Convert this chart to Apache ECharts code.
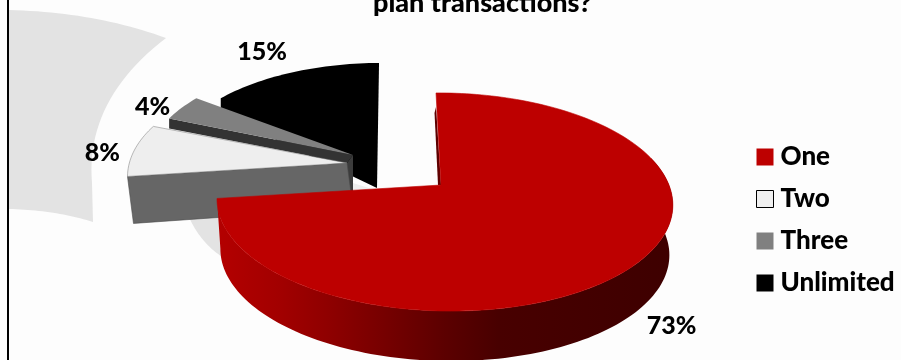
<!DOCTYPE html>
<html>
<head>
<meta charset="utf-8">
<style>html,body{margin:0;padding:0;background:#fdfdfd}#chart{width:901px;height:360px}</style>
<script src="https://cdn.jsdelivr.net/npm/echarts@6/dist/echarts.min.js"></script>
</head>
<body>
<div id="chart"></div>
<script>
// Share of respondents per answer, in percent
const categories = ['One', 'Two', 'Three', 'Unlimited'];
const shares = [73, 8, 4, 15];

const FONT = 'Lato, "Noto Sans", sans-serif';
const WEIGHT = 900;
const topColors = ['#bd0000', '#eeeeee', '#808080', '#000000'];
const legendColors = ['#bd0000', '#f0f0f0', '#808080', '#000000'];

// Perspective of the tilted pie disc
const RX = 225, RY = 106.4, TILT = 0.156, SKEW = -0.013, SHEAR = 0.054;

// Pulled-out position and solid shape of each wedge
const wedges = [
  { cx: 441, cy: 185, scale: 1.00, z: 5, depth: 50, labelDx: 36, labelDy: 62 },
  { cx: 347, cy: 163, scale: 0.98, z: 4, depth: 47, labelDx: -32, labelDy: 3 },
  { cx: 353, cy: 155, scale: 0.93, z: 3, depth: 10, labelDx: -29, labelDy: -1 },
  { cx: 384, cy: 155, scale: 0.97, z: 2, depth: 15, labelDx: -31, labelDy: -20 }
];

const total = shares.reduce((a, b) => a + b, 0);
const angles = [];
shares.reduce((acc, s) => { angles.push([acc, acc + s / total * 360]); return acc + s / total * 360; }, 0);

function rim(w, deg, sx, dy) {
  const t = deg * Math.PI / 180, u = Math.sin(t), v = Math.cos(t);
  const d = 1 + TILT * v + SKEW * u;
  const y = w.cy - RY * v / d;
  const x = w.cx + RX * w.scale * (sx || 1) * u / d + SHEAR * (y - w.cy);
  return [x, y + (dy || 0)];
}
function arc(w, a0, a1, sx, dy) {
  const pts = [], n = Math.max(2, Math.ceil(Math.abs(a1 - a0) / 1.5));
  for (let i = 0; i <= n; i++) pts.push(rim(w, a0 + (a1 - a0) * i / n, sx, dy));
  return pts;
}
const poly = (points, style) => ({ type: 'polygon', shape: { points }, style, silent: true });

// Quadratic curve sampled into points, for the watermark outline
function quad(p0, c, p1) {
  const pts = [];
  for (let i = 0; i <= 24; i++) {
    const t = i / 24, s = 1 - t;
    pts.push([s * s * p0[0] + 2 * s * t * c[0] + t * t * p1[0], s * s * p0[1] + 2 * s * t * c[1] + t * t * p1[1]]);
  }
  return pts;
}

const redSide = {
  type: 'linear', x: 216, y: 0, x2: 672, y2: 0, global: true,
  colorStops: [
    { offset: 0, color: '#b40000' }, { offset: 0.14, color: '#a20000' },
    { offset: 0.25, color: '#8e0000' }, { offset: 0.5, color: '#5c0000' },
    { offset: 0.62, color: '#480000' }, { offset: 1, color: '#3e0000' }
  ]
};

function shapesFor(i) {
  const w = wedges[i], [a0, a1] = angles[i];
  const apex = [w.cx, w.cy];
  const top = [apex].concat(arc(w, a0, a1));
  const out = [];
  const add = (x, y, p) => [p[0] + x, p[1] + y];
  if (i === 0) {
    // Outer wall, a slightly narrower rim dropped below the top face
    const upper = arc(w, 75, a1);
    const lower = arc(w, 75, a1, 0.985, w.depth);
    out.push(poly(upper.concat(lower.reverse()), { fill: redSide }));
    // Sliver of the inner cut face
    const r0 = rim(w, a0);
    out.push(poly([add(0, 14, r0), add(-1.5, 20, r0), add(-3, 0, apex), apex], { fill: '#5e0000' }));
    out.push(poly(top, { fill: topColors[i], stroke: topColors[i], lineWidth: 0.6 }));
  } else if (i === 1) {
    const s = rim(w, a0);
    // Small patch of the far face showing past the neighbouring wedge
    out.push(poly([add(6, 20, apex), add(25, 26, apex), add(6, 34, apex)], { fill: '#eeeeee' }));
    out.push(poly([s, add(6, w.depth, s), add(6, 45, apex), apex], {
      fill: '#666666', stroke: '#4a4a4a', lineWidth: 0.6
    }));
    out.push(poly(top, { fill: topColors[i], stroke: '#777777', lineWidth: 0.5 }));
  } else if (i === 2) {
    const s = rim(w, a0);
    out.push(poly([apex, add(-6, 8, apex), add(-6, 37, apex), add(0, 37, apex)], { fill: '#3c3c3c' }));
    out.push(poly([s, add(0, w.depth, s), add(-6, 8, apex), apex], { fill: '#333333' }));
    out.push(poly(top, { fill: topColors[i] }));
  } else {
    // Everything black here, so the rim and the solid below share one outline
    const s = rim(w, a0);
    out.push(poly(arc(w, a0, a1).concat([add(-7, 33, apex), add(0, w.depth, s)]), { fill: topColors[i] }));
  }
  const mid = rim(w, (a0 + a1) / 2);
  out.push({
    type: 'text', silent: true, z2: 10,
    style: {
      x: mid[0] + w.labelDx, y: mid[1] + w.labelDy,
      text: shares[i] + '%', fill: '#000',
      font: WEIGHT + ' 25px ' + FONT, textAlign: 'center', textVerticalAlign: 'middle'
    }
  });
  return out;
}

const series = categories.map((name, i) => ({
  name,
  type: 'custom',
  coordinateSystem: 'none',
  z: wedges[i].z,
  itemStyle: { color: legendColors[i] },
  data: [{ name, value: shares[i] }],
  renderItem: () => ({ type: 'group', children: shapesFor(i) })
}));

const bandOutline = [].concat(
  quad([9, 10], [95, 12], [166, 38]),
  quad([166, 38], [85, 100], [92, 183]),
  quad([93, 222], [55, 210], [9, 209])
);
const blobOutline = quad([188, 215], [200, 243], [224, 258]).concat([[235, 215]]);

const chart = echarts.init(document.getElementById('chart'), null, { renderer: 'canvas' });
chart.setOption({
  animation: false,
  backgroundColor: '#fdfdfd',
  title: {
    text: 'plan transactions?', left: 373, top: -10, padding: 0,
    textStyle: { fontFamily: FONT, fontWeight: WEIGHT, fontSize: 27, color: '#000' }
  },
  legend: {
    orient: 'vertical', left: 756, top: 144, padding: 0,
    itemWidth: 17, itemHeight: 17, itemGap: 16, icon: 'rect',
    textStyle: { fontFamily: FONT, fontWeight: WEIGHT, fontSize: 26, color: '#000', padding: [0, 0, 0, 2] },
    data: categories.map((name, i) => ({
      name,
      itemStyle: { color: legendColors[i], borderColor: i === 1 ? '#000' : legendColors[i], borderWidth: i === 1 ? 1 : 0 }
    }))
  },
  graphic: [
    // Frame edge and the pale watermark ring behind the pie
    { type: 'rect', shape: { x: 7, y: 0, width: 2, height: 360 }, style: { fill: '#000' }, silent: true },
    { type: 'polygon', shape: { points: bandOutline }, style: { fill: '#e3e3e3' }, silent: true },
    { type: 'polygon', shape: { points: blobOutline }, style: { fill: '#e3e3e3' }, silent: true }
  ],
  series
});
</script>
</body>
</html>
